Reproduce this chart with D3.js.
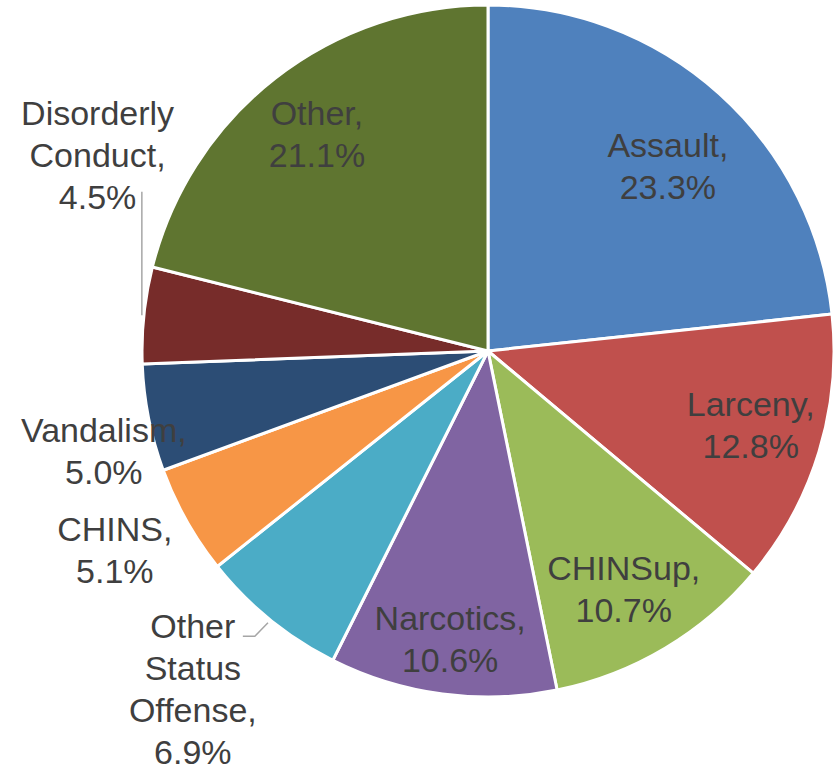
<!DOCTYPE html>
<html>
<head>
<meta charset="utf-8">
<script src="https://cdn.jsdelivr.net/npm/d3@7"></script>
<style>
  body { margin: 0; background: #fff; }
  text { font-family: "Liberation Sans", Arial, sans-serif; }
</style>
</head>
<body>
<script>
// offense categories and their share (%), clockwise from 12 o'clock
const categories = ["Assault", "Larceny", "CHINSup", "Narcotics", "Other Status Offense",
                    "CHINS", "Vandalism", "Disorderly Conduct", "Other"];
const shares = [23.3, 12.8, 10.7, 10.6, 6.9, 5.1, 5.0, 4.5, 21.1];
const colors = ["#4F81BD", "#C0504D", "#9BBB59", "#8064A2", "#4BACC6",
                "#F79646", "#2C4D75", "#772C2A", "#5F7530"];
// label text lines (name split as in the picture)
const labelLines = [["Assault,"], ["Larceny,"], ["CHINSup,"], ["Narcotics,"],
                    ["Other", "Status", "Offense,"], ["CHINS,"], ["Vandalism,"],
                    ["Disorderly", "Conduct,"], ["Other,"]];
// label placement: [angle in degrees from 12 o'clock, distance from centre]
const labelPolar = [[44.2, 258], [105.8, 273], [150.3, 274], [187.5, 290], [221.1, 449],
                    [241.9, 423], [255.4, 397], [296.7, 437], [321.7, 276]];

function main(){
    const width = 839;
    const height = 770;
    const cx = 488, cy = 351, radius = 346;
    const lineH = 42;
    const fontSize = 34;

    const svg = d3.select("body").append("svg")
        .attr("width", width)
        .attr("height", height);

    const data = categories.map((c, i) => ({name: c, value: shares[i], color: colors[i], i: i}));

    const pie = d3.pie().value(d => d.value).sort(null);
    const arc = d3.arc().innerRadius(0).outerRadius(radius);
    const arcs = pie(data);

    const g = svg.append("g").attr("transform", `translate(${cx},${cy})`);

    g.selectAll(".slice")
      .data(arcs)
      .enter().append("path")
      .attr("class", "slice")
      .attr("d", arc)
      .attr("fill", d => d.data.color)
      .attr("stroke", "#fff")
      .attr("stroke-width", 3)
      .attr("stroke-linejoin", "round");

    function polar(angDeg, dist){
        const a = angDeg * Math.PI / 180;
        return [dist * Math.sin(a), -dist * Math.cos(a)];
    }
    function edgePoint(d){
        const a = (d.startAngle + d.endAngle) / 2;
        return [radius * Math.sin(a), -radius * Math.cos(a)];
    }

    // leader lines for the two outside labels that need them
    const disorderly = arcs[7];
    const pD = edgePoint(disorderly);
    const labD = polar(labelPolar[7][0], labelPolar[7][1]);
    const nD = labelLines[7].length + 1;
    const labDBottom = labD[1] + (nD * lineH) / 2 - lineH + 12 + 4;
    g.append("path")
      .attr("d", d3.line()([[pD[0] - 2, pD[1]], [pD[0] - 2, labDBottom]]))
      .attr("fill", "none")
      .attr("stroke", "#A6A6A6")
      .attr("stroke-width", 1.5);

    const status = arcs[4];
    const pS = edgePoint(status);
    const labS = polar(labelPolar[4][0], labelPolar[4][1]);
    const nS = labelLines[4].length + 1;
    const firstLineBase = labS[1] - (nS - 1) * lineH / 2 + 10;
    g.append("path")
      .attr("d", d3.line()([[pS[0] - 2, pS[1] + 3], [labS[0] + 62, firstLineBase], [labS[0] + 50, firstLineBase]]))
      .attr("fill", "none")
      .attr("stroke", "#A6A6A6")
      .attr("stroke-width", 1.5);

    // labels
    const labels = g.selectAll(".label")
      .data(arcs)
      .enter().append("text")
      .attr("class", "label")
      .attr("text-anchor", "middle")
      .attr("fill", "#3F3F3F")
      .style("font-size", fontSize + "px")
      .attr("transform", d => {
          const p = polar(labelPolar[d.data.i][0], labelPolar[d.data.i][1]);
          return `translate(${p[0]},${p[1]})`;
      });

    labels.each(function(d){
        const lines = labelLines[d.data.i].concat([d.data.value.toFixed(1) + "%"]);
        const n = lines.length;
        const t = d3.select(this);
        lines.forEach((ln, k) => {
            t.append("tspan")
              .attr("x", 0)
              .attr("y", (k - (n - 1) / 2) * lineH + 12)
              .text(ln);
        });
    });
}
main();
</script>
</body>
</html>
